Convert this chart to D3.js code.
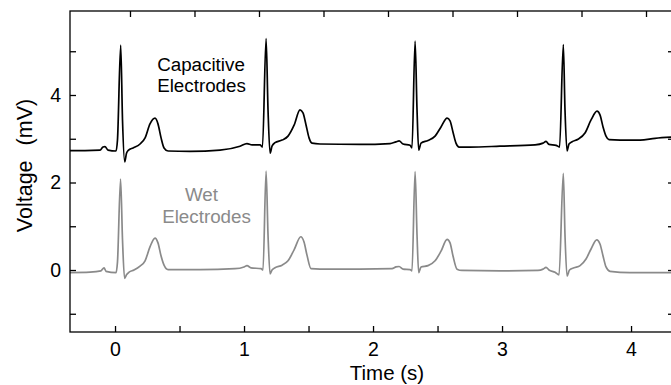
<!DOCTYPE html>
<html>
<head>
<meta charset="utf-8">
<script src="https://cdn.jsdelivr.net/npm/d3@7"></script>
<style>
  body { margin: 0; background: #fff; }
  svg { display: block; font-family: "Liberation Sans", Arial, Helvetica, sans-serif; }
</style>
</head>
<body>
<div id="chart"></div>
<script>
// Capacitive electrodes trace: [time (s), voltage (mV)]
const capacitive = [
  [-0.349, 2.73], [-0.233, 2.73], [-0.116, 2.74], [-0.093, 2.81], [-0.078, 2.82], [-0.054, 2.74],
  [0.008, 2.72], [0.019, 2.97], [0.044, 5.14], [0.058, 3.43], [0.075, 2.47], [0.089, 2.67],
  [0.105, 2.74], [0.140, 2.79], [0.194, 2.88], [0.233, 3.02], [0.271, 3.34], [0.310, 3.47],
  [0.333, 3.34], [0.357, 3.02], [0.380, 2.79], [0.411, 2.72], [0.581, 2.71], [0.814, 2.74],
  [0.969, 2.83], [1.023, 2.89], [1.062, 2.86], [1.124, 2.86], [1.143, 2.81], [1.171, 5.29],
  [1.186, 3.66], [1.202, 2.67], [1.217, 2.83], [1.240, 2.91], [1.295, 2.97], [1.341, 3.06],
  [1.388, 3.31], [1.434, 3.66], [1.457, 3.59], [1.481, 3.31], [1.504, 3.02], [1.527, 2.90],
  [1.589, 2.88], [1.899, 2.87], [2.132, 2.89], [2.178, 2.93], [2.202, 2.95], [2.233, 2.88],
  [2.287, 2.85], [2.302, 2.79], [2.326, 5.23], [2.341, 3.66], [2.354, 2.74], [2.372, 2.90],
  [2.426, 2.96], [2.481, 3.06], [2.527, 3.27], [2.574, 3.47], [2.597, 3.41], [2.620, 3.15],
  [2.643, 2.90], [2.667, 2.81], [2.752, 2.81], [2.984, 2.83], [3.256, 2.86], [3.318, 2.90],
  [3.341, 2.94], [3.364, 2.87], [3.419, 2.85], [3.446, 2.81], [3.475, 5.15], [3.488, 3.66],
  [3.504, 2.72], [3.519, 2.88], [3.543, 2.93], [3.589, 2.99], [3.643, 3.13], [3.690, 3.43],
  [3.736, 3.63], [3.760, 3.54], [3.783, 3.27], [3.806, 3.06], [3.829, 2.98], [3.915, 2.97],
  [4.070, 2.97], [4.186, 3.01], [4.333, 3.04]
];

// Wet electrodes trace: [time (s), voltage (mV)]
const wet = [
  [-0.349, -0.06], [-0.194, -0.05], [-0.109, -0.02], [-0.085, 0.05], [-0.070, -0.03],
  [0.008, -0.06], [0.019, 0.18], [0.043, 2.08], [0.058, 0.69], [0.074, -0.19], [0.089, -0.11],
  [0.109, -0.05], [0.147, 0.00], [0.194, 0.09], [0.233, 0.21], [0.271, 0.53], [0.310, 0.73],
  [0.333, 0.62], [0.357, 0.32], [0.380, 0.11], [0.411, 0.01], [0.659, 0.01], [0.930, 0.03],
  [1.000, 0.07], [1.023, 0.10], [1.054, 0.05], [1.132, 0.03], [1.147, 0.00], [1.171, 2.26],
  [1.186, 0.80], [1.202, -0.09], [1.217, 0.00], [1.240, 0.05], [1.295, 0.11], [1.341, 0.21],
  [1.388, 0.46], [1.440, 0.76], [1.465, 0.64], [1.488, 0.34], [1.519, 0.03], [1.589, 0.02],
  [1.899, 0.02], [2.147, 0.03], [2.178, 0.07], [2.202, 0.08], [2.233, 0.02], [2.287, 0.01],
  [2.302, -0.02], [2.326, 2.25], [2.341, 0.80], [2.354, -0.06], [2.372, 0.07], [2.426, 0.10],
  [2.481, 0.21], [2.527, 0.43], [2.574, 0.70], [2.597, 0.62], [2.620, 0.32], [2.651, 0.02],
  [2.690, -0.01], [2.984, -0.02], [3.279, -0.01], [3.318, 0.02], [3.341, 0.06], [3.364, 0.00],
  [3.411, -0.05], [3.442, -0.11], [3.475, 2.21], [3.488, 0.80], [3.504, -0.14], [3.523, 0.00],
  [3.558, 0.05], [3.605, 0.10], [3.651, 0.25], [3.690, 0.48], [3.734, 0.69], [3.760, 0.59],
  [3.783, 0.32], [3.806, 0.07], [3.837, -0.03], [3.992, -0.06], [4.333, -0.06]
];

const xTicks = [0, 0.5, 1, 1.5, 2, 2.5, 3, 3.5, 4];
const xLabels = [0, 1, 2, 3, 4];
const topTicks = [0.116, 0.616, 1.116, 1.616, 2.116, 2.616, 3.116, 3.616, 4.116];
const yTicks = [-1, 0, 1, 2, 3, 4, 5];
const yLabels = [0, 2, 4];

const margin = { top: 11, right: -3, bottom: 53, left: 70 };
const W = 671, H = 385;
const width = W - margin.left - margin.right;
const height = H - margin.top - margin.bottom;

const svg = d3.select("#chart").append("svg")
    .attr("width", W)
    .attr("height", H)
    .style("overflow", "hidden");

const g = svg.append("g")
    .attr("transform", `translate(${margin.left},${margin.top})`);

const x = d3.scaleLinear().domain([-0.349, 4.333]).range([0, width]);
const y = d3.scaleLinear().domain([-1.417, 5.92]).range([height, 0]);

const line = d3.line()
    .x(d => x(d[0]))
    .y(d => y(d[1]))
    .curve(d3.curveMonotoneX);

g.append("clipPath").attr("id", "plot-clip")
  .append("rect").attr("width", width).attr("height", height);

g.append("path")
    .datum(wet)
    .attr("clip-path", "url(#plot-clip)")
    .attr("fill", "none")
    .attr("stroke", "#8a8a8a")
    .attr("stroke-width", 1.7)
    .attr("stroke-linejoin", "round")
    .attr("d", line);

g.append("path")
    .datum(capacitive)
    .attr("clip-path", "url(#plot-clip)")
    .attr("fill", "none")
    .attr("stroke", "#000")
    .attr("stroke-width", 1.7)
    .attr("stroke-linejoin", "round")
    .attr("d", line);

// axes, ticks pointing inward
const xAxis = g.append("g")
    .attr("transform", `translate(0,${height})`)
    .call(d3.axisBottom(x).tickValues(xTicks).tickSizeInner(-6).tickSizeOuter(0).tickPadding(10)
      .tickFormat(d => xLabels.includes(d) ? d : ""));

const topAxis = g.append("g")
    .call(d3.axisTop(x).tickValues(topTicks).tickSizeInner(-6).tickSizeOuter(0).tickFormat(""));

const yAxis = g.append("g")
    .call(d3.axisLeft(y).tickValues(yTicks).tickSizeInner(-6).tickSizeOuter(0).tickPadding(9)
      .tickFormat(d => yLabels.includes(d) ? d : ""));

const rightAxis = g.append("g")
    .attr("transform", `translate(${width},0)`)
    .call(d3.axisRight(y).tickValues(yTicks).tickSizeInner(-6).tickSizeOuter(0).tickFormat(""));

[xAxis, topAxis, yAxis, rightAxis].forEach(a => {
  a.select(".domain").remove();
  a.selectAll("line").attr("stroke", "#000").attr("stroke-width", 1.3);
  a.selectAll("text").style("font-size", "19.5px").style("font-family", "Liberation Sans, Arial, sans-serif").attr("fill", "#000");
});

g.append("rect")
    .attr("width", width)
    .attr("height", height)
    .attr("fill", "none")
    .attr("stroke", "#000")
    .attr("stroke-width", 1.3);

// axis titles
svg.append("text")
    .attr("x", 387)
    .attr("y", 380)
    .attr("text-anchor", "middle")
    .style("font-size", "20.5px")
    .text("Time (s)");

const yTitle = svg.append("text")
    .attr("transform", "translate(32,165.5) rotate(-90)")
    .attr("text-anchor", "middle")
    .style("font-size", "21.5px");
yTitle.append("tspan").text("Voltage");
yTitle.append("tspan").attr("dx", 15).text("(mV)");

// trace labels
const traceLabels = [
  { text: "Capacitive", cx: 201, y: 70.5, color: "#000" },
  { text: "Electrodes", cx: 201.5, y: 92, color: "#000" },
  { text: "Wet", cx: 201.5, y: 201, color: "#8a8a8a" },
  { text: "Electrodes", cx: 206.5, y: 223, color: "#8a8a8a" }
];
traceLabels.forEach(l => {
  svg.append("text")
    .attr("x", l.cx)
    .attr("y", l.y)
    .attr("text-anchor", "middle")
    .attr("fill", l.color)
    .style("font-size", "18.8px")
    .text(l.text);
});
</script>
</body>
</html>
